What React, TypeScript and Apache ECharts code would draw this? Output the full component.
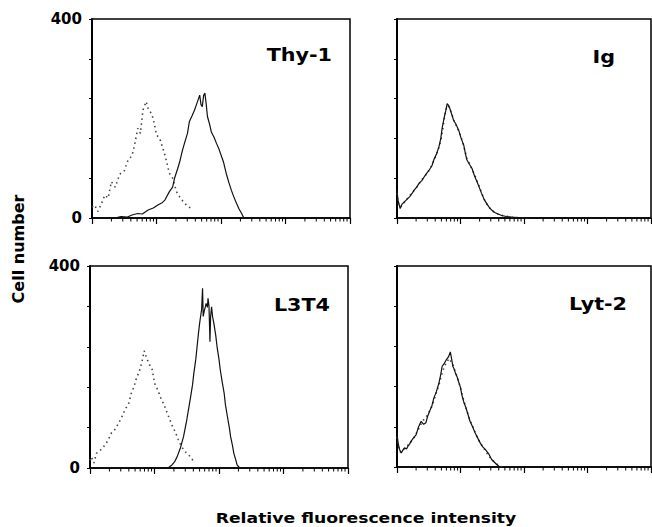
import React, { useEffect, useRef } from "react";
import * as echarts from "echarts";

// x = log10 fluorescence channel (decades 0..4), y = cell number
const decades = [0, 1, 2, 3, 4];
const minorOffsets = [0.301, 0.477, 0.602, 0.699, 0.778, 0.845, 0.903, 0.954];
const yTicks = [0, 80, 160, 240, 320, 400];
const panelNames = ["Thy-1", "Ig", "L3T4", "Lyt-2"];

const thy1Control = [[0.0,22],[0.04,26],[0.09,13],[0.15,30],[0.2,46],[0.25,40],[0.3,73],[0.36,62],[0.43,88],[0.5,95],[0.56,117],[0.62,125],[0.66,147],[0.71,180],[0.75,170],[0.79,217],[0.84,234],[0.87,220],[0.91,212],[0.95,200],[1.0,167],[1.05,160],[1.13,127],[1.2,90],[1.25,80],[1.31,53],[1.37,40],[1.44,29],[1.5,22],[1.57,18]];
const thy1Stained = [[0.35,0],[0.45,3],[0.55,2],[0.62,6],[0.71,9],[0.78,8],[0.87,16],[0.95,20],[1.02,26],[1.08,30],[1.13,36],[1.2,53],[1.25,62],[1.28,80],[1.33,100],[1.36,113],[1.4,135],[1.44,153],[1.48,170],[1.51,194],[1.55,205],[1.59,217],[1.63,232],[1.67,247],[1.69,228],[1.71,224],[1.73,246],[1.75,251],[1.77,230],[1.79,204],[1.82,190],[1.85,173],[1.89,163],[1.93,150],[1.97,138],[2.01,123],[2.04,112],[2.08,90],[2.12,72],[2.16,56],[2.2,42],[2.24,29.5],[2.28,18],[2.32,9],[2.35,1]];

const igControl = [[0,50],[0.02,30],[0.05,22],[0.09,26],[0.13,35],[0.17,40],[0.21,46],[0.25,53],[0.29,58],[0.33,66],[0.37,73],[0.41,80],[0.45,86],[0.49,93],[0.53,101],[0.57,112],[0.61,124],[0.65,138],[0.69,155],[0.72,178],[0.75,205],[0.78,222],[0.8,226],[0.83,220],[0.86,210],[0.9,195],[0.94,184],[0.98,172],[1.02,158],[1.06,140],[1.1,120],[1.14,110],[1.18,98],[1.22,88],[1.26,75],[1.3,62],[1.34,48],[1.38,36],[1.42,27],[1.46,20],[1.5,14],[1.56,10],[1.62,6],[1.7,4],[1.78,2],[1.9,1],[2.05,0]];
const igStained = [[0,56],[0.015,36],[0.05,19],[0.08,28],[0.12,33],[0.16,38],[0.2,43],[0.24,50],[0.27,56],[0.31,62],[0.35,70],[0.39,75],[0.43,83],[0.47,90],[0.51,97],[0.55,105],[0.58,117],[0.62,128],[0.66,143],[0.69,160],[0.71,180],[0.74,200],[0.77,217],[0.79,230],[0.82,225],[0.84,217],[0.87,205],[0.89,197],[0.93,188],[0.97,177],[1.01,160],[1.05,147],[1.08,128],[1.1,117],[1.14,108],[1.18,100],[1.22,85],[1.26,73],[1.3,60],[1.33,50],[1.37,38],[1.41,29.5],[1.45,22],[1.49,16],[1.54,11],[1.59,8],[1.65,5],[1.72,3],[1.8,2],[1.9,1],[2.0,0.5],[2.2,0]];

const l3t4Control = [[0.0,15],[0.02,22],[0.06,10],[0.1,29],[0.16,35],[0.23,45],[0.28,55],[0.33,69],[0.38,75],[0.44,88],[0.49,100],[0.54,115],[0.6,128],[0.64,148],[0.68,160],[0.72,178],[0.76,190],[0.8,207],[0.84,232],[0.88,217],[0.92,205],[0.96,197],[1.01,164],[1.05,155],[1.09,141],[1.13,130],[1.16,121],[1.2,108],[1.24,95],[1.28,82],[1.32,72],[1.37,56],[1.42,42],[1.48,32],[1.53,26],[1.58,18],[1.62,10]];
const l3t4Stained = [[0,0],[0.3,1],[0.6,0],[0.9,1],[1.1,0],[1.22,1],[1.27,6],[1.31,12],[1.35,22],[1.4,39],[1.45,62],[1.5,95],[1.53,118],[1.56,141],[1.59,165],[1.61,188],[1.64,215],[1.66,240],[1.68,265],[1.7,287],[1.72,305],[1.73,313],[1.745,356],[1.755,300],[1.77,310],[1.79,320],[1.8,326],[1.82,318],[1.83,336],[1.845,320],[1.86,250],[1.87,300],[1.885,319],[1.9,300],[1.92,287],[1.95,262],[1.97,240],[2.0,215],[2.02,194],[2.05,170],[2.08,148],[2.1,125],[2.13,102],[2.16,80],[2.18,62],[2.21,44],[2.23,29],[2.26,16],[2.28,6],[2.32,0]];

const lyt2Control = [[0,60],[0.02,42],[0.05,30],[0.08,32],[0.11,36],[0.14,40],[0.18,44],[0.22,50],[0.26,56],[0.3,66],[0.34,76],[0.38,86],[0.42,94],[0.46,100],[0.5,108],[0.54,118],[0.58,132],[0.62,148],[0.66,163],[0.7,182],[0.74,198],[0.78,208],[0.82,216],[0.85,210],[0.88,204],[0.91,192],[0.94,182],[0.98,166],[1.02,148],[1.06,128],[1.1,112],[1.14,96],[1.18,84],[1.22,72],[1.26,60],[1.3,50],[1.34,42],[1.38,35],[1.42,27],[1.46,20],[1.5,14],[1.55,8],[1.6,3],[1.65,0]];
const lyt2Stained = [[0,68],[0.016,48],[0.04,35],[0.067,28],[0.09,33],[0.12,38],[0.15,36],[0.17,41],[0.2,46],[0.22,51],[0.26,58],[0.3,64],[0.34,80],[0.38,91],[0.42,85],[0.455,88],[0.48,100],[0.51,110],[0.55,122],[0.58,137],[0.62,150],[0.66,167],[0.69,185],[0.71,200],[0.74,205],[0.77,212],[0.81,219],[0.84,229],[0.86,215],[0.88,200],[0.9,195],[0.92,187],[0.95,178],[0.97,170],[1.0,158],[1.02,144],[1.05,130],[1.08,120],[1.11,108],[1.15,91],[1.19,80],[1.23,68],[1.27,58],[1.31,48],[1.35,40],[1.39,35],[1.42,30],[1.45,25],[1.47,20],[1.49,15],[1.53,10],[1.57,5],[1.62,0]];

const controls = [thy1Control, igControl, l3t4Control, lyt2Control];
const stained = [thy1Stained, igStained, l3t4Stained, lyt2Stained];

const FONT = "'DejaVu Sans', 'Liberation Sans', sans-serif";

export default function App() {
  const ref = useRef<HTMLDivElement>(null);
  useEffect(() => {
    if (!ref.current) return;
    const chart = echarts.init(ref.current, null, { renderer: "svg" });
    const grids = [
      { left: 92, top: 19, width: 258, height: 199 },
      { left: 397, top: 19, width: 254, height: 199 },
      { left: 90, top: 266, width: 258, height: 202 },
      { left: 397, top: 266, width: 254, height: 201 },
    ];
    const minorTickData: number[][] = [];
    decades.slice(0, -1).forEach((d) => minorOffsets.forEach((o) => minorTickData.push([d + o, 0])));

    const xAxis = grids.map((_, i) => ({
      type: "value",
      gridIndex: i,
      min: decades[0],
      max: decades[decades.length - 1],
      interval: 1,
      axisLabel: { show: false },
      axisTick: { show: true, length: 6, lineStyle: { color: "#000", width: 1.2 } },
      axisLine: { show: true, lineStyle: { color: "#000", width: 1.6 } },
      splitLine: { show: false },
    }));
    const yAxis = grids.map((_, i) => ({
      type: "value",
      gridIndex: i,
      min: yTicks[0],
      max: yTicks[yTicks.length - 1],
      interval: 80,
      axisLabel: {
        show: i % 2 === 0,
        formatter: (v: number) => (v === 0 || v === 400 ? String(v) : ""),
        fontFamily: FONT,
        fontWeight: "bold",
        fontSize: 15,
        color: "#000",
        margin: 10,
      },
      axisTick: { show: true, length: 3, lineStyle: { color: "#000", width: 1 } },
      axisLine: { show: true, lineStyle: { color: "#000", width: 2 } },
      splitLine: { show: false },
    }));
    const series: any[] = [];
    grids.forEach((_, i) => {
      series.push({
        type: "line",
        xAxisIndex: i,
        yAxisIndex: i,
        data: controls[i],
        showSymbol: false,
        symbol: "none",
        lineStyle: { color: "#444", width: 1.6, type: [1.5, 3.5] },
        z: 3,
      });
      series.push({
        type: "line",
        xAxisIndex: i,
        yAxisIndex: i,
        data: stained[i],
        showSymbol: false,
        symbol: "none",
        lineStyle: { color: "#111", width: 1.2 },
        z: 4,
      });
      series.push({
        type: "custom",
        xAxisIndex: i,
        yAxisIndex: i,
        data: minorTickData,
        clip: false,
        silent: true,
        renderItem: (_p: any, api: any) => {
          const pt = api.coord([api.value(0), 0]);
          return {
            type: "line",
            shape: { x1: pt[0], y1: pt[1], x2: pt[0], y2: pt[1] + 3.5 },
            style: { stroke: "#000", lineWidth: 1 },
          };
        },
      });
    });
    const labelPos = [
      [332, 55],
      [615, 57],
      [330, 305],
      [627, 304],
    ];
    const graphic: any[] = panelNames.map((name, i) => ({
      type: "text",
      x: labelPos[i][0],
      y: labelPos[i][1],
      scaleX: 1.15,
      style: {
        text: name,
        fill: "#000",
        font: `bold 18px ${FONT}`,
        textAlign: "right",
        textVerticalAlign: "middle",
      },
    }));
    graphic.push({
      type: "text",
      x: 18,
      y: 249,
      rotation: Math.PI / 2,
      style: {
        text: "Cell number",
        fill: "#000",
        font: `bold 16px ${FONT}`,
        textAlign: "center",
        textVerticalAlign: "middle",
      },
    });
    graphic.push({
      type: "text",
      x: 366,
      y: 518,
      scaleX: 1.23,
      style: {
        text: "Relative fluorescence intensity",
        fill: "#000",
        font: `bold 14px ${FONT}`,
        textAlign: "center",
        textVerticalAlign: "middle",
      },
    });

    chart.setOption({
      animation: false,
      backgroundColor: "#fff",
      grid: grids.map((g) => ({ ...g, show: true, borderColor: "#000", borderWidth: 1.5, containLabel: false })),
      xAxis,
      yAxis,
      series,
      graphic,
    });
    return () => chart.dispose();
  }, []);
  return (
    <div
      ref={ref}
      style={{ position: "absolute", left: 0, top: 0, width: 652, height: 527, background: "#fff" }}
    />
  );
}
